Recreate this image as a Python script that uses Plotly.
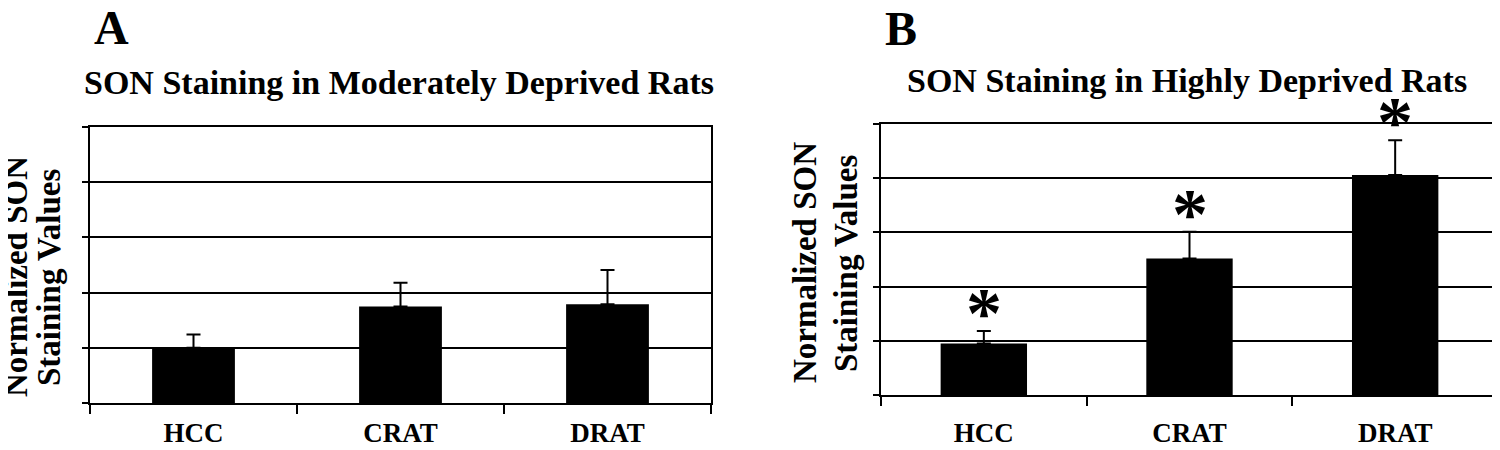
import plotly.graph_objects as go

categories = ["HCC", "CRAT", "DRAT"]

# Panel A: moderately deprived
values_a = [1.00, 1.75, 1.79]
errors_a = [0.24, 0.43, 0.62]

# Panel B: highly deprived
values_b = [0.95, 2.52, 4.06]
errors_b = [0.23, 0.49, 0.64]
signif_b = ["*", "*", "*"]

y_ticks = [0, 1, 2, 3, 4, 5]

title_a = "SON Staining in Moderately Deprived Rats"
title_b = "SON Staining in Highly Deprived Rats"
ytitle_lines = ["Normalized SON", "Staining Values"]

FONT = "Liberation Serif, Times New Roman, serif"
W, H = 1500, 450
OFF = 8  # page body margin in the browser


def px(x):
    return (x - OFF) / W


def py(y):
    return 1 - (y - OFF) / H


fig = go.Figure()

err_style = dict(type="data", symmetric=False, color="black", thickness=2, width=7)

fig.add_trace(go.Bar(
    x=categories, y=values_a, width=0.40,
    marker=dict(color="black", line=dict(width=0)),
    error_y=dict(array=errors_a, arrayminus=[0] * len(values_a), **err_style),
    xaxis="x", yaxis="y", showlegend=False,
))
fig.add_trace(go.Bar(
    x=categories, y=values_b, width=0.42,
    marker=dict(color="black", line=dict(width=0)),
    error_y=dict(array=errors_b, arrayminus=[0] * len(values_b), **err_style),
    xaxis="x2", yaxis="y2", showlegend=False,
))

xcommon = dict(
    type="category", range=[-0.5, 2.5], showline=True, linecolor="black", linewidth=2,
    mirror=True, ticks="outside", tickson="boundaries", ticklen=9, tickwidth=2,
    tickcolor="black", showgrid=False, zeroline=False,
    tickfont=dict(family=FONT, size=27, color="black", weight="bold"),
    fixedrange=True,
)
ycommon = dict(
    range=[0, 5], tickvals=y_ticks, showticklabels=False, showline=True,
    linecolor="black", linewidth=2, mirror=True, ticks="outside", ticklen=6,
    tickwidth=2, tickcolor="black", showgrid=True, gridcolor="black", gridwidth=2,
    zeroline=False, fixedrange=True,
)

fig.update_layout(
    width=W, height=H,
    margin=dict(l=0, r=0, t=0, b=0),
    paper_bgcolor="white", plot_bgcolor="white",
    xaxis=dict(domain=[px(90), px(711)], anchor="y", ticklabelstandoff=5, **xcommon),
    yaxis=dict(domain=[py(403), py(127)], anchor="x", **ycommon),
    xaxis2=dict(domain=[px(881), px(1498)], anchor="y2", ticklabelstandoff=13, **xcommon),
    yaxis2=dict(domain=[py(395), py(124)], anchor="x2", **ycommon),
)

anns = []
# Panel letters
anns.append(dict(text="A", x=px(111), y=py(28), xref="paper", yref="paper",
                 xanchor="center", yanchor="middle", showarrow=False,
                 font=dict(family=FONT, size=48, color="black", weight="bold")))
anns.append(dict(text="B", x=px(901), y=py(29), xref="paper", yref="paper",
                 xanchor="center", yanchor="middle", showarrow=False,
                 font=dict(family=FONT, size=48, color="black", weight="bold")))
# Titles
anns.append(dict(text=title_a, x=px(399), y=py(83), xref="paper", yref="paper",
                 xanchor="center", yanchor="middle", showarrow=False,
                 font=dict(family=FONT, size=34, color="black", weight="bold")))
anns.append(dict(text=title_b, x=px(1187), y=py(80), xref="paper", yref="paper",
                 xanchor="center", yanchor="middle", showarrow=False,
                 font=dict(family=FONT, size=34, color="black", weight="bold")))
# Y-axis titles (two lines each)
for (x1, x2), yc in [((16, 49), 277), ((805, 846), 263)]:
    for xpos, line in zip((x1, x2), ytitle_lines):
        anns.append(dict(text=line, x=px(xpos), y=py(yc),
                         xref="paper", yref="paper", xanchor="center", yanchor="middle",
                         textangle=-90, showarrow=False,
                         font=dict(family=FONT, size=33, color="black", weight="bold")))
# Significance asterisks for panel B
for c, v, e, s in zip(categories, values_b, errors_b, signif_b):
    anns.append(dict(text=s, x=c, y=v + e, xref="x2", yref="y2",
                     xanchor="center", yanchor="bottom", yshift=-24, showarrow=False,
                     font=dict(family=FONT, size=72, color="black", weight="bold")))

fig.update_layout(annotations=anns)

fig.write_html("out.html")
